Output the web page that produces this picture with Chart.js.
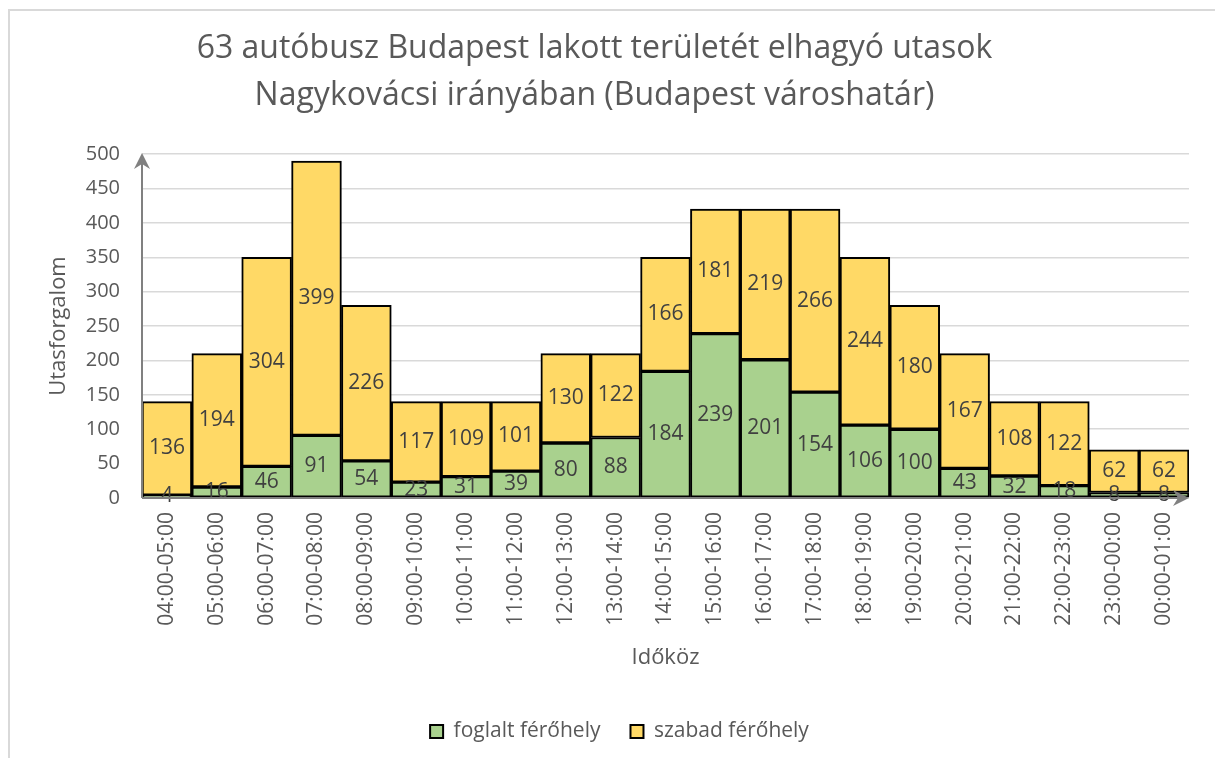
<!DOCTYPE html>
<html>
<head>
<meta charset="utf-8">
<script src="https://cdn.jsdelivr.net/npm/chart.js@4"></script>
<style>
  html, body { margin: 0; padding: 0; background: #fff; overflow: hidden; }
  #frame { position: absolute; left: 8px; top: 9px; width: 1220px; height: 800px; border: 2px solid #d9d9d9; box-sizing: border-box; }
  #wrap { position: absolute; left: 0; top: 0; width: 1215px; height: 758px; }
</style>
</head>
<body>
<div id="frame"></div>
<div id="wrap"><canvas id="chart" width="1215" height="758"></canvas></div>
<script>
// idősávok
const categories = [
    '04:00-05:00', '05:00-06:00', '06:00-07:00', '07:00-08:00', '08:00-09:00',
    '09:00-10:00', '10:00-11:00', '11:00-12:00', '12:00-13:00', '13:00-14:00',
    '14:00-15:00', '15:00-16:00', '16:00-17:00', '17:00-18:00', '18:00-19:00',
    '19:00-20:00', '20:00-21:00', '21:00-22:00', '22:00-23:00', '23:00-00:00',
    '00:00-01:00'
];
const foglalt = [4, 16, 46, 91, 54, 23, 31, 39, 80, 88, 184, 239, 201, 154, 106, 100, 43, 32, 18, 8, 8];
const szabad = [136, 194, 304, 399, 226, 117, 109, 101, 130, 122, 166, 181, 219, 266, 244, 180, 167, 108, 122, 62, 62];
const yTicks = [0, 50, 100, 150, 200, 250, 300, 350, 400, 450, 500];

const FONT = "'Open Sans', sans-serif";
const GREY = '#595959';

// értékek a szeletek közepére
const valueLabels = {
    id: 'valueLabels',
    afterDatasetsDraw(chart) {
        const ctx = chart.ctx;
        ctx.save();
        ctx.font = '21px ' + FONT;
        ctx.fillStyle = '#404040';
        ctx.textAlign = 'center';
        ctx.textBaseline = 'middle';
        chart.data.datasets.forEach((ds, i) => {
            chart.getDatasetMeta(i).data.forEach((bar, j) => {
                ctx.fillText(ds.data[j], bar.x, (bar.y + bar.base) / 2);
            });
        });
        ctx.restore();
    }
};

// tengelyek nyíllal
function arrowHead(ctx, x, y, angle) {
    ctx.save();
    ctx.translate(x, y);
    ctx.rotate(angle);
    ctx.beginPath();
    ctx.moveTo(0, 0);
    ctx.lineTo(-16, -8);
    ctx.lineTo(-11, 0);
    ctx.lineTo(-16, 8);
    ctx.closePath();
    ctx.fill();
    ctx.restore();
}

const axisArrows = {
    id: 'axisArrows',
    afterDatasetsDraw(chart) {
        const ctx = chart.ctx;
        const a = chart.chartArea;
        ctx.save();
        ctx.strokeStyle = '#808080';
        ctx.fillStyle = '#808080';
        ctx.lineWidth = 2;
        ctx.beginPath();
        ctx.moveTo(a.left, a.bottom);
        ctx.lineTo(a.right - 4, a.bottom);
        ctx.moveTo(a.left, a.bottom);
        ctx.lineTo(a.left, a.top + 4);
        ctx.stroke();
        arrowHead(ctx, a.right, a.bottom, 0);
        arrowHead(ctx, a.left, a.top - 1, -Math.PI / 2);
        ctx.restore();
    }
};

// jelmagyarázat kicsit jobbra
const legendShift = {
    id: 'legendShift',
    afterLayout(chart) {
        if (chart.legend) {
            chart.legend.left += 25;
            chart.legend.right += 25;
        }
    }
};

new Chart(document.getElementById('chart'), {
    type: 'bar',
    data: {
        labels: categories,
        datasets: [
            {
                label: 'foglalt férőhely',
                data: foglalt,
                backgroundColor: '#a9d18e',
                borderColor: '#000000',
                borderWidth: 2,
                borderSkipped: false
            },
            {
                label: 'szabad férőhely',
                data: szabad,
                backgroundColor: '#ffd966',
                borderColor: '#000000',
                borderWidth: 2,
                borderSkipped: false
            }
        ]
    },
    options: {
        responsive: false,
        animation: false,
        barPercentage: 1,
        categoryPercentage: 1,
        layout: { padding: { left: 0, right: 26, top: 0, bottom: 6 } },
        plugins: {
            title: {
                display: true,
                text: ['63 autóbusz Budapest lakott területét elhagyó utasok', 'Nagykovácsi irányában (Budapest városhatár)'],
                color: GREY,
                font: { family: FONT, size: 32, weight: 'normal', lineHeight: 1.47 },
                padding: { top: 25, bottom: 35 }
            },
            legend: {
                position: 'bottom',
                labels: {
                    color: GREY,
                    font: { family: FONT, size: 21 },
                    boxWidth: 13,
                    boxHeight: 13,
                    padding: 30
                }
            },
            tooltip: { enabled: false }
        },
        scales: {
            x: {
                stacked: true,
                grid: { display: false },
                border: { display: false },
                ticks: {
                    color: GREY,
                    font: { family: FONT, size: 21 },
                    minRotation: 90,
                    maxRotation: 90,
                    autoSkip: false,
                    padding: 6
                },
                title: {
                    display: true,
                    text: 'Időköz',
                    color: GREY,
                    font: { family: FONT, size: 22 },
                    padding: { top: 0, bottom: 20 }
                },
                afterFit(scale) { scale.height = 193; }
            },
            y: {
                stacked: true,
                min: 0,
                max: 500,
                afterBuildTicks(scale) { scale.ticks = yTicks.map(v => ({ value: v })); },
                grid: { color: '#d9d9d9', lineWidth: 1.5, drawTicks: false },
                border: { display: false },
                ticks: {
                    color: GREY,
                    font: { family: FONT, size: 20 },
                    padding: 22
                },
                title: {
                    display: true,
                    text: 'Utasforgalom',
                    color: GREY,
                    font: { family: FONT, size: 22 },
                    padding: { top: 46, bottom: 0 }
                },
                afterFit(scale) { scale.width = 142; }
            }
        }
    },
    plugins: [valueLabels, axisArrows, legendShift]
});
</script>
</body>
</html>
